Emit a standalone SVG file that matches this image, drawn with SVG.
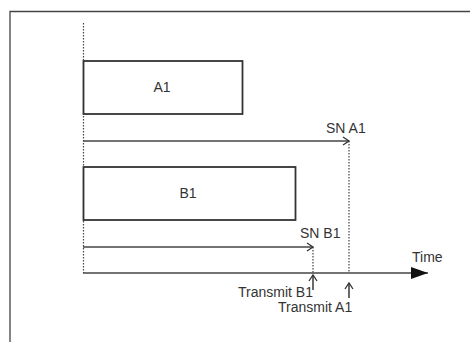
<svg xmlns="http://www.w3.org/2000/svg" width="470" height="342" viewBox="0 0 470 342">
<defs>
<style>
text{font-family:"Liberation Sans",Arial,sans-serif;font-size:14px;fill:#333}
.box{fill:#fff;stroke:#333;stroke-width:1.8}
.ln{stroke:#444;stroke-width:1.6;fill:none}
.dot{stroke:#444;stroke-width:1.2;stroke-dasharray:1.5 1.5;fill:none}
</style>
<marker id="open" markerWidth="10" markerHeight="10" refX="8" refY="5" orient="auto" markerUnits="userSpaceOnUse">
<path d="M2,1 L8,5 L2,9" fill="none" stroke="#333" stroke-width="1.3"/>
</marker>
<marker id="filled" markerWidth="18" markerHeight="12" refX="17" refY="6" orient="auto" markerUnits="userSpaceOnUse">
<path d="M0,0 L17,6 L0,12 Z" fill="#111"/>
</marker>
</defs>
<rect width="470" height="342" fill="#fff"/>
<path d="M10,342 V11.5 H470" fill="none" stroke="#444" stroke-width="1.3"/>
<g id="connectors">
<line class="dot" x1="83.5" y1="23" x2="83.5" y2="273"/>
<line class="dot" x1="349" y1="141" x2="349" y2="273"/>
<line class="dot" x1="313" y1="247" x2="313" y2="273"/>
<line class="ln" x1="83" y1="141" x2="349" y2="141" marker-end="url(#open)"/>
<line class="ln" x1="83" y1="247" x2="313" y2="247" marker-end="url(#open)"/>
<line class="ln" x1="83" y1="273" x2="428" y2="273" stroke="#333" stroke-width="2" marker-end="url(#filled)"/>
<line class="ln" x1="313" y1="290" x2="313" y2="275" marker-end="url(#open)"/>
<line class="ln" x1="349" y1="298" x2="349" y2="283" marker-end="url(#open)"/>
</g>
<g id="A1">
<rect class="box" x="83.5" y="61" width="159" height="53"/>
<text x="162" y="92" text-anchor="middle">A1</text>
</g>
<g id="B1">
<rect class="box" x="83.5" y="167" width="212" height="53"/>
<text x="188" y="198" text-anchor="middle">B1</text>
</g>
<g id="labels">
<text x="326" y="133">SN A1</text>
<text x="300" y="238">SN B1</text>
<text x="412" y="262">Time</text>
<text x="238" y="297">Transmit B1</text>
<text x="278" y="312">Transmit A1</text>
</g>
</svg>
